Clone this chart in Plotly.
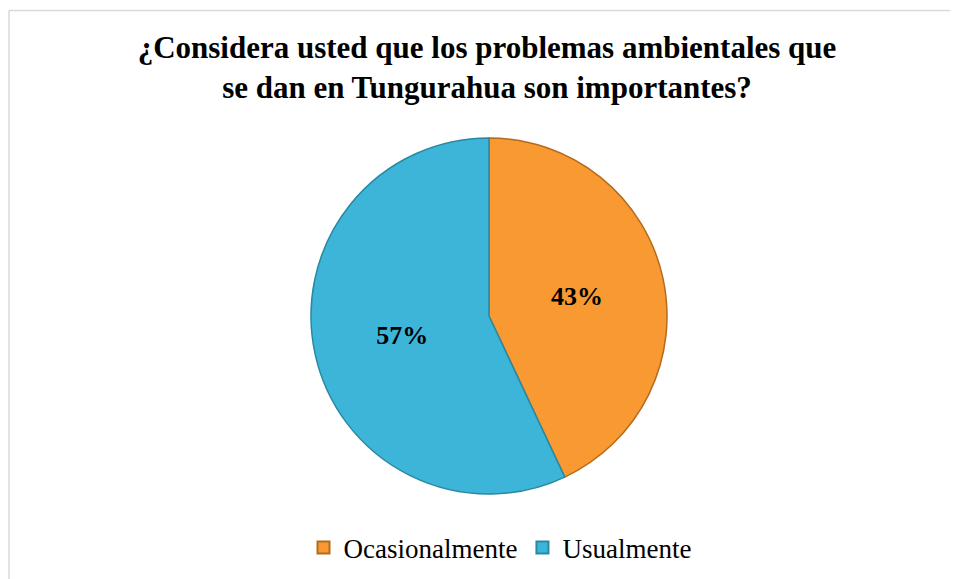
import plotly.graph_objects as go

W, H = 958, 579
OFF = 8  # page body margin offset

categories = ["Ocasionalmente", "Usualmente"]
values = [43, 57]
slice_colors = ["#F89A31", "#3DB5D8"]
edge_colors = ["#B56A1C", "#2A88A3"]
title_lines = ["¿Considera usted que los problemas ambientales que",
               "se dan en Tungurahua son importantes?"]

cx, cy, r = 489 - OFF, 316 - OFF, 178


def px_x(x):
    return (x - OFF) / W


def px_y(y):
    return 1 - (y - OFF) / H


fig = go.Figure(go.Pie(
    labels=categories,
    values=values,
    sort=False,
    direction="clockwise",
    rotation=0,
    marker=dict(colors=slice_colors, line=dict(color=edge_colors, width=1.5)),
    texttemplate="%{percent:.0%}",
    textposition="inside",
    insidetextorientation="horizontal",
    textfont=dict(family="Liberation Serif", size=26, color="black", weight="bold"),
    hoverinfo="skip",
    domain=dict(x=[(cx - r) / W, (cx + r) / W], y=[(H - cy - r) / H, (H - cy + r) / H]),
))

fig.update_layout(
    width=W, height=H,
    margin=dict(l=0, r=0, t=0, b=0),
    paper_bgcolor="white",
    plot_bgcolor="white",
    title=dict(
        text="<br>".join(title_lines),
        x=px_x(487), xanchor="center",
        y=px_y(58), yanchor="top",
        font=dict(family="Liberation Serif", size=31, color="black", weight="bold"),
    ),
    legend=dict(
        orientation="h",
        x=px_x(500), xanchor="center",
        y=px_y(548), yanchor="middle",
        font=dict(family="Liberation Serif", size=27, color="black"),
        itemsizing="constant",
        traceorder="normal",
    ),
    shapes=[
        dict(type="line", xref="paper", yref="paper",
             x0=px_x(9), x1=1, y0=px_y(10.5), y1=px_y(10.5),
             line=dict(color="#D9D9D9", width=1.5)),
        dict(type="line", xref="paper", yref="paper",
             x0=px_x(9), x1=px_x(9), y0=0, y1=px_y(10.5),
             line=dict(color="#D9D9D9", width=1.5)),
    ],
)

fig.write_html("out.html")
